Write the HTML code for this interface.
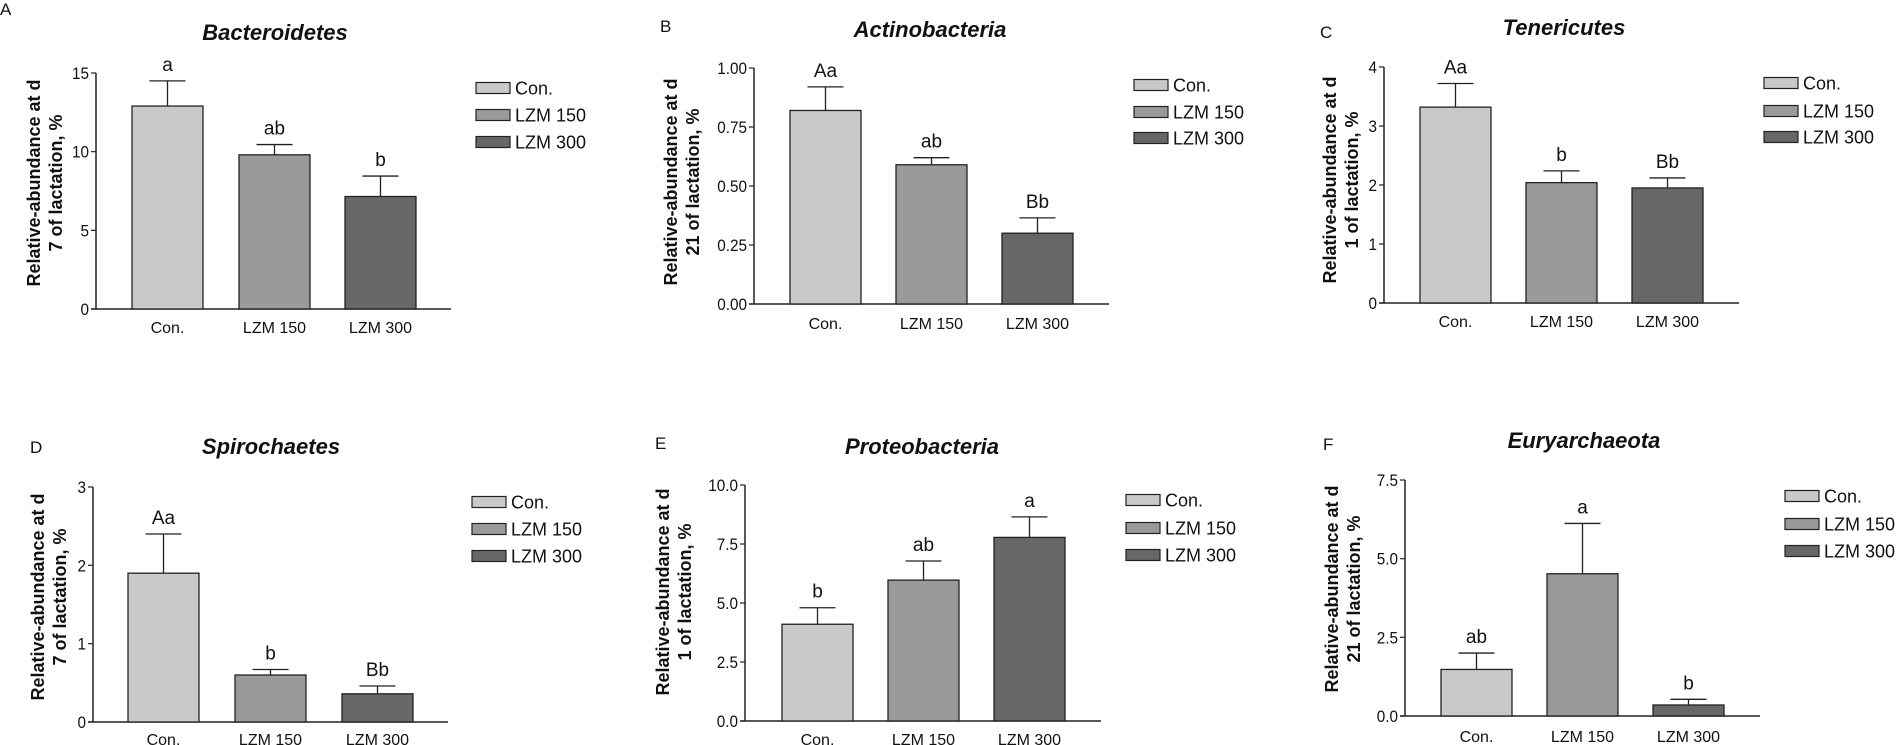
<!DOCTYPE html>
<html><head><meta charset="utf-8">
<style>
html,body{margin:0;padding:0;background:#fff;}
svg{display:block;}
text{font-family:"Liberation Sans",Arial,sans-serif;fill:#111;}
</style></head>
<body>
<svg id="s" width="1898" height="745" viewBox="0 0 1898 745" xmlns="http://www.w3.org/2000/svg"></svg>
<script>
var P=[
{L:"A",lx:0,ly:15,t:"Bacteroidetes",tx:275,ty:40,ax:96,y0:309,yt:73,ae:451,max:15,ticks:[[0,"0"],[5,"5"],[10,"10"],[15,"15"]],
 bars:[[132,12.9,14.5,"a"],[239,9.8,10.45,"ab"],[345,7.15,8.45,"b"]],lgx:476,lgy:[88,115,142],yl1:33,yl2:55,ylc:183,d:"7",xly:333},
{L:"B",lx:660,ly:32,t:"Actinobacteria",tx:930,ty:37,ax:754,y0:304,yt:68,ae:1109,max:1,ticks:[[0,"0.00"],[0.25,"0.25"],[0.5,"0.50"],[0.75,"0.75"],[1,"1.00"]],
 bars:[[790,0.82,0.92,"Aa"],[896,0.59,0.62,"ab"],[1002,0.30,0.365,"Bb"]],lgx:1134,lgy:[85,112,138],yl1:670,yl2:692,ylc:182,d:"21",xly:329},
{L:"C",lx:1320,ly:38,t:"Tenericutes",tx:1564,ty:35,ax:1384,y0:303,yt:67,ae:1739,max:4,ticks:[[0,"0"],[1,"1"],[2,"2"],[3,"3"],[4,"4"]],
 bars:[[1420,3.32,3.72,"Aa"],[1526,2.04,2.24,"b"],[1632,1.95,2.12,"Bb"]],lgx:1764,lgy:[83,111,137],yl1:1329,yl2:1351,ylc:180,d:"1",xly:327},
{L:"D",lx:30,ly:453,t:"Spirochaetes",tx:271,ty:454,ax:93,y0:722,yt:487,ae:448,max:3,ticks:[[0,"0"],[1,"1"],[2,"2"],[3,"3"]],
 bars:[[128,1.9,2.4,"Aa"],[235,0.6,0.67,"b"],[342,0.36,0.46,"Bb"]],lgx:472,lgy:[502,529,556],yl1:37,yl2:59,ylc:597,d:"7",xly:745},
{L:"E",lx:655,ly:449,t:"Proteobacteria",tx:922,ty:454,ax:745,y0:721,yt:485,ae:1101,max:10,ticks:[[0,"0.0"],[2.5,"2.5"],[5,"5.0"],[7.5,"7.5"],[10,"10.0"]],
 bars:[[782,4.1,4.8,"b"],[888,5.97,6.78,"ab"],[994,7.78,8.65,"a"]],lgx:1126,lgy:[500,528,555],yl1:662,yl2:684,ylc:592,d:"1",xly:745},
{L:"F",lx:1323,ly:450,t:"Euryarchaeota",tx:1584,ty:448,ax:1405,y0:716,yt:480,ae:1760,max:7.5,ticks:[[0,"0.0"],[2.5,"2.5"],[5,"5.0"],[7.5,"7.5"]],
 bars:[[1441,1.48,2.0,"ab"],[1547,4.52,6.12,"a"],[1653,0.35,0.53,"b"]],lgx:1785,lgy:[496,524,551],yl1:1331,yl2:1353,ylc:589,d:"21",xly:742}
];
var C=["#c9c9c9","#9a9a9a","#676767"],N=["Con.","LZM 150","LZM 300"];
var h="";
P.forEach(function(p){
 var sc=(p.y0-p.yt)/p.max, Y=function(v){return p.y0-v*sc;};
 h+='<text x="'+p.lx+'" y="'+p.ly+'" font-size="17">'+p.L+'</text>';
 h+='<text x="'+p.tx+'" y="'+p.ty+'" font-size="22" font-weight="bold" font-style="italic" text-anchor="middle">'+p.t+'</text>';
 h+='<line x1="'+p.ax+'" y1="'+p.yt+'" x2="'+p.ax+'" y2="'+p.y0+'" stroke="#222" stroke-width="1.5"/>';
 h+='<line x1="'+(p.ax-5)+'" y1="'+p.y0+'" x2="'+p.ae+'" y2="'+p.y0+'" stroke="#222" stroke-width="1.5"/>';
 p.ticks.forEach(function(t){var y=Y(t[0]);
  h+='<line x1="'+(p.ax-5)+'" y1="'+y+'" x2="'+p.ax+'" y2="'+y+'" stroke="#222" stroke-width="1.2"/>';
  h+='<text x="'+(p.ax-7)+'" y="'+(y+6)+'" font-size="17" text-anchor="end" transform="translate('+(p.ax-7)+',0) scale(0.9,1) translate('+(-(p.ax-7))+',0)">'+t[1]+'</text>';});
 p.bars.forEach(function(b,i){
  var x=b[0],w=71,yt=Y(b[1]),ye=Y(b[2]),cx=x+w/2;
  h+='<line x1="'+cx+'" y1="'+ye+'" x2="'+cx+'" y2="'+yt+'" stroke="#222" stroke-width="1.3"/>';
  h+='<line x1="'+(cx-18)+'" y1="'+ye+'" x2="'+(cx+18)+'" y2="'+ye+'" stroke="#222" stroke-width="1.3"/>';
  h+='<rect x="'+x+'" y="'+yt+'" width="'+w+'" height="'+(p.y0-yt)+'" fill="'+C[i]+'" stroke="#222" stroke-width="1.3"/>';
  h+='<text x="'+cx+'" y="'+(ye-10)+'" font-size="19" text-anchor="middle">'+b[3]+'</text>';
  h+='<text x="'+cx+'" y="'+p.xly+'" font-size="16" text-anchor="middle">'+N[i]+'</text>';
  var ly=p.lgy[i];
  h+='<rect x="'+p.lgx+'" y="'+(ly-5.5)+'" width="34" height="11" fill="'+C[i]+'" stroke="#222" stroke-width="1.2"/>';
  h+='<text x="'+(p.lgx+39)+'" y="'+(ly+6.5)+'" font-size="18">'+N[i]+'</text>';
 });
 h+='<text transform="translate('+(p.yl1+7)+','+p.ylc+') rotate(-90)" font-size="18" font-weight="bold" text-anchor="middle">Relative-abundance at d</text>';
 h+='<text transform="translate('+(p.yl2+7)+','+p.ylc+') rotate(-90)" font-size="18" font-weight="bold" text-anchor="middle">'+p.d+' of lactation, %</text>';
});
document.getElementById("s").innerHTML=h;
</script>
</body></html>
